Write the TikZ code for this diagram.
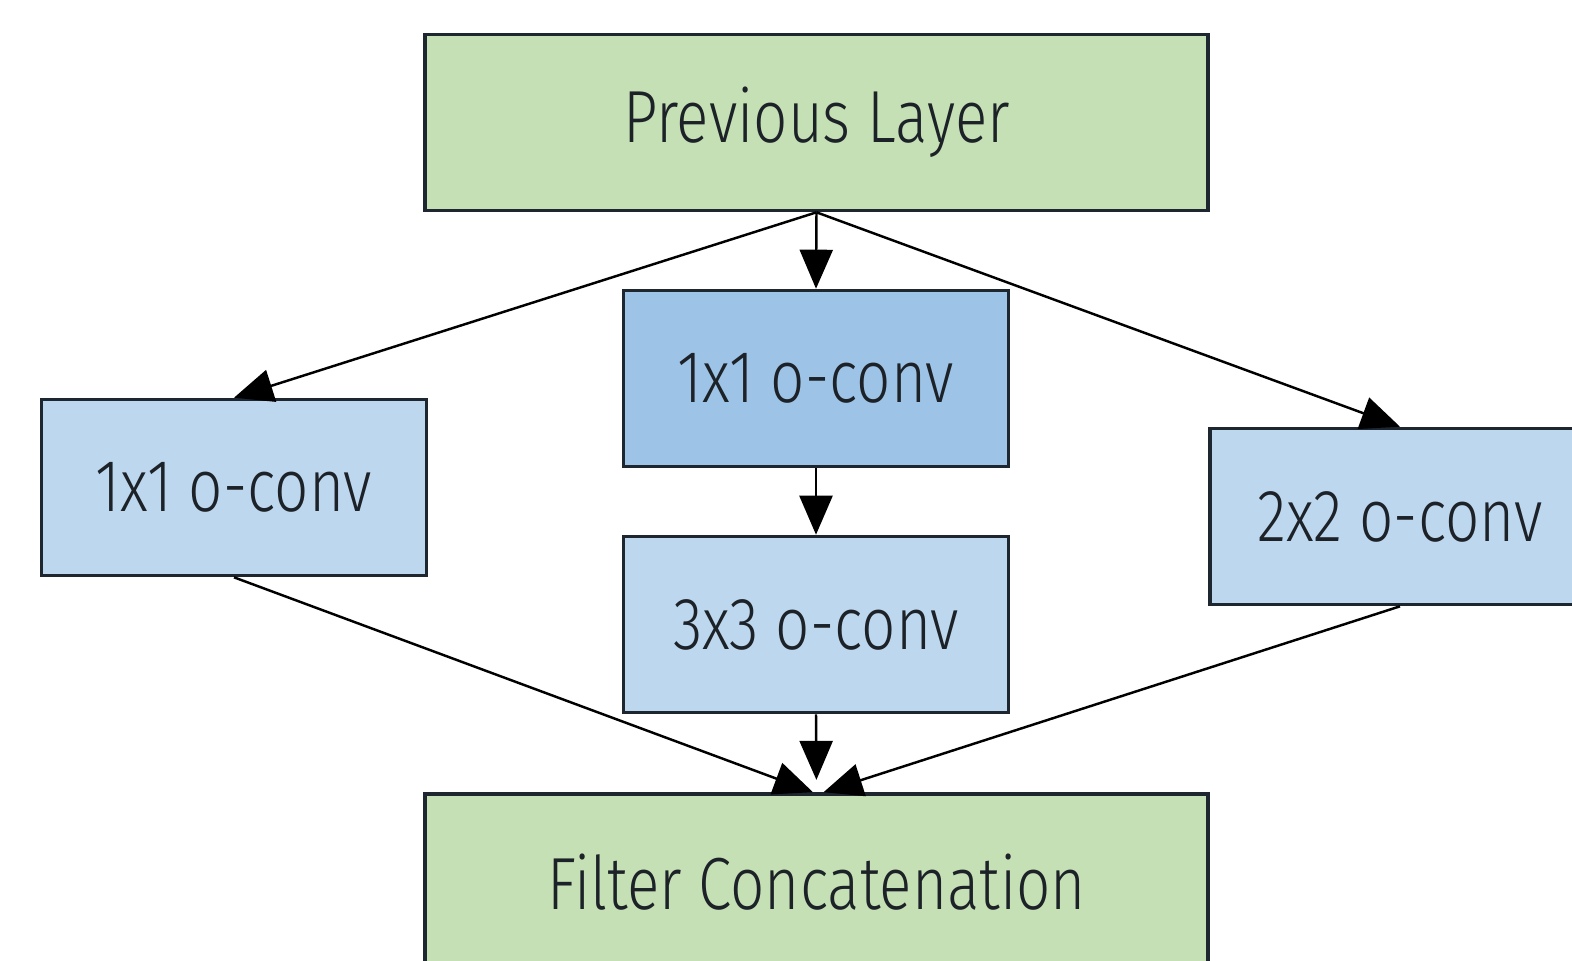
\documentclass[tikz,border=0pt]{standalone}
\usepackage{fontspec}
\setmainfont{Fira Sans Light}[FakeStretch=0.815, Ligatures=NoCommon]
\usepackage{tikz}
\usetikzlibrary{arrows.meta, positioning}
\definecolor{layergreen}{HTML}{C5E0B4}
\definecolor{convlight}{HTML}{BDD7EE}
\definecolor{convdark}{HTML}{9DC3E6}
\definecolor{boxedge}{HTML}{1E2630}
\definecolor{labelink}{HTML}{1C2228}

\begin{document}
\begin{tikzpicture}[x=0.01cm, y=-0.01cm,
    every node/.style={font=\fontsize{21}{26}\selectfont, text=labelink},
    layerbox/.style={draw=boxedge, line width=1pt, fill=layergreen, minimum width=7.83cm, minimum height=1.76cm},
    convbox/.style={draw=boxedge, line width=1pt, fill=convlight, minimum width=3.85cm, minimum height=1.76cm},
    flow/.style={line width=0.7pt, -{Triangle[length=0.39cm, width=0.33cm]}}]
  \useasboundingbox (0,0) rectangle (1572,960);
  % input and output layers
  \node[layerbox] (prev) at (816.5,122.5) {Previous Layer};
  \node[layerbox] (concat) at (816.5,882) {Filter Concatenation};
  % the four branches
  \node[convbox] (leftconv) at (234,487.5) {1x1 o-conv};
  \node[convbox, fill=convdark] (midconv) at (816,378.5) {1x1 o-conv};
  \node[convbox] (bigconv) at (816,624.5) {3x3 o-conv};
  \node[convbox, minimum width=3.8cm] (rightconv) at (1400,516.5) {2x2 o-conv};
  % fan out
  \draw[flow] (prev.south) -- (leftconv.north);
  \draw[flow] (prev.south) -- (midconv.north);
  \draw[flow] (prev.south) -- (rightconv.north);
  \draw[flow] (midconv.south) -- (bigconv.north);
  % fan in
  \draw[flow] (leftconv.south) -- ([xshift=-1pt]concat.north);
  \draw[flow, shorten >=3.5pt] (bigconv.south) -- (concat.north);
  \draw[flow] (rightconv.south) -- ([xshift=2pt]concat.north);
\end{tikzpicture}
\end{document}
